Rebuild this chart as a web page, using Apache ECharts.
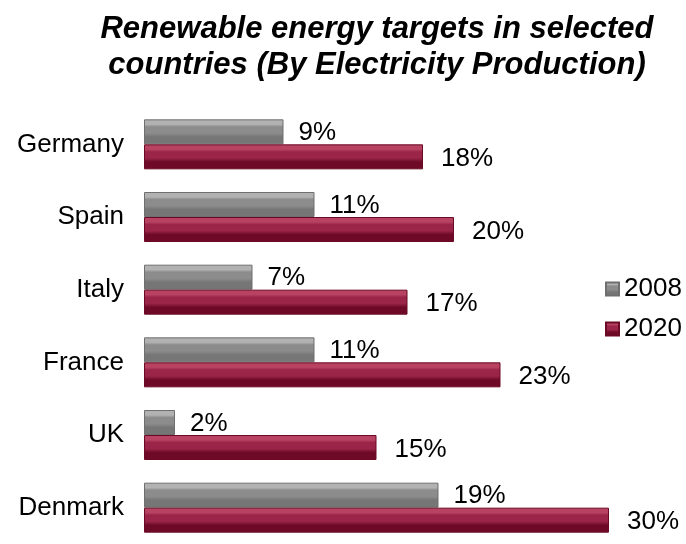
<!DOCTYPE html>
<html>
<head>
<meta charset="utf-8">
<script src="https://cdn.jsdelivr.net/npm/echarts@6/dist/echarts.min.js"></script>
<style>
  html, body { margin: 0; padding: 0; background: #fff; }
  #chart { width: 686px; height: 544px; }
</style>
</head>
<body>
<div id="chart"></div>
<script>
  // data
  var countries = ['Germany', 'Spain', 'Italy', 'France', 'UK', 'Denmark'];
  var seriesNames = ['2008', '2020'];
  var values2008 = [9, 11, 7, 11, 2, 19];
  var values2020 = [18, 20, 17, 23, 15, 30];

  function bevel(light, mid, dark) {
    return new echarts.graphic.LinearGradient(0, 0, 0, 1, [
      { offset: 0, color: light },
      { offset: 0.2, color: light },
      { offset: 0.3, color: mid },
      { offset: 0.55, color: mid },
      { offset: 0.7, color: dark },
      { offset: 1, color: dark }
    ]);
  }

  var font = 'Liberation Sans, Arial, sans-serif';
  var myChart = echarts.init(document.getElementById('chart'));
  var labelStyle = {
    show: true,
    position: 'right',
    fontSize: 26,
    color: '#000',
    fontFamily: font,
    formatter: '{c}%'
  };

  var option = {
    animation: false,
    title: {
      text: 'Renewable energy targets in selected\ncountries (By Electricity Production)',
      left: 372,
      textAlign: 'center',
      top: 6,
      textStyle: {
        fontSize: 31,
        fontWeight: 'bold',
        fontStyle: 'italic',
        lineHeight: 36,
        color: '#000',
        fontFamily: font
      }
    },
    legend: {
      orient: 'vertical',
      left: 600,
      top: 271,
      itemWidth: 13,
      itemHeight: 13,
      itemGap: 14,
      icon: 'rect',
      textStyle: { fontSize: 26, color: '#000', fontFamily: font },
      data: seriesNames
    },
    grid: { left: 144, top: 108, width: 465, height: 446 },
    xAxis: {
      type: 'value',
      min: 0,
      max: 30,
      show: false
    },
    yAxis: {
      type: 'category',
      data: countries,
      inverse: true,
      axisLine: { show: false },
      axisTick: { show: false },
      axisLabel: {
        fontSize: 26,
        color: '#000',
        margin: 20,
        padding: [6, 0, 0, 0],
        fontFamily: font
      }
    },
    series: [
      {
        name: seriesNames[0],
        type: 'bar',
        data: values2008,
        barWidth: 25,
        barGap: '0%',
        itemStyle: {
          color: bevel('#b2b2b2', '#8c8c8c', '#767676'),
          borderColor: '#6f6f6f',
          borderWidth: 1
        },
        label: Object.assign({}, labelStyle, { distance: 15, offset: [0, 1] })
      },
      {
        name: seriesNames[1],
        type: 'bar',
        data: values2020,
        barWidth: 25,
        itemStyle: {
          color: bevel('#b84262', '#9a2548', '#6e0a28'),
          borderColor: '#6a0a24',
          borderWidth: 1
        },
        label: Object.assign({}, labelStyle, { distance: 18, offset: [0, 2] })
      }
    ]
  };
  option && myChart.setOption(option);
</script>
</body>
</html>
